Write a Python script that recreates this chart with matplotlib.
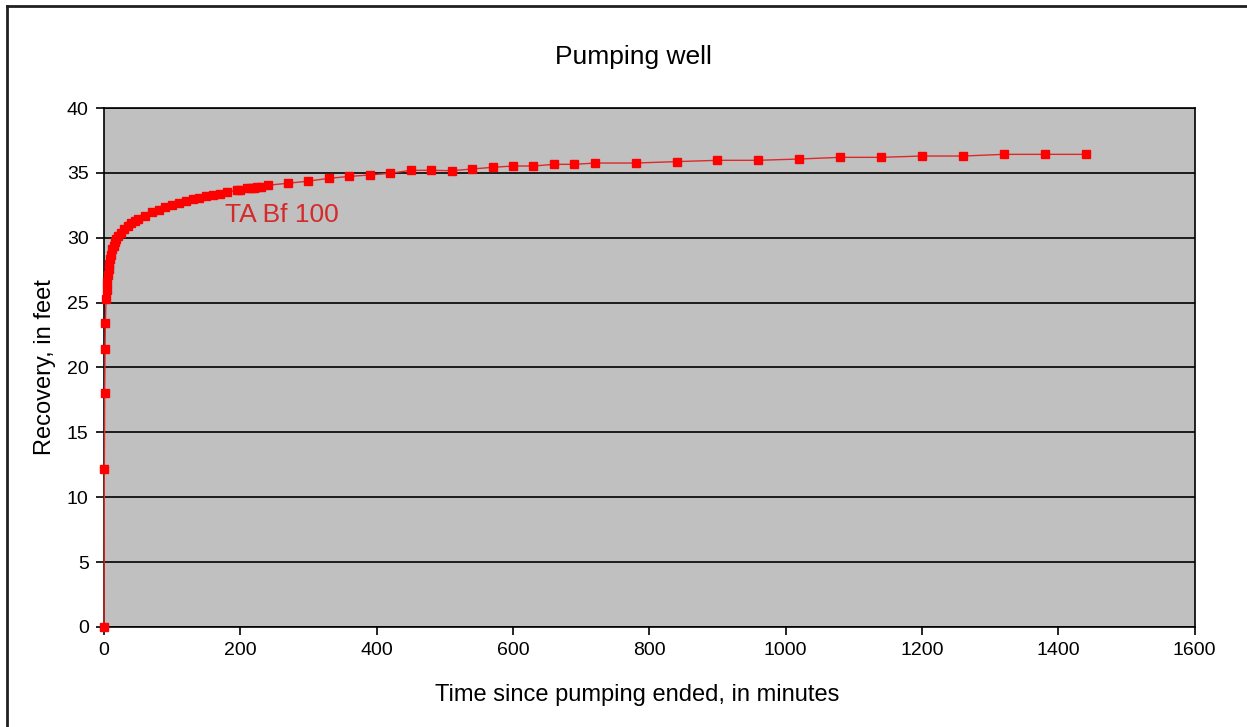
import numpy as np
import matplotlib
matplotlib.use("Agg")
import matplotlib.pyplot as plt
from matplotlib.lines import Line2D

plt.rcParams["font.family"] = ["Liberation Sans", "DejaVu Sans"]

# minutes since pumping ended / recovery (ft)
minutes = [0, 0.5, 1, 1.5, 2, 3, 4, 5, 6, 7, 8, 9, 10, 12, 14, 16, 18, 20,
           25, 30, 35, 40, 45, 50, 60, 70, 80, 90, 100, 110, 120, 130, 140,
           150, 160, 170, 180, 195, 200, 210, 215, 220, 225, 230, 240, 270,
           300, 330, 360, 390, 420, 450, 480, 510, 540, 570, 600, 630, 660,
           690, 720, 780, 840, 900, 960, 1020, 1080, 1140, 1200, 1260, 1320,
           1380, 1440]
recovery = [0.0, 12.2, 18.0, 21.4, 23.4, 25.3, 26.0, 26.6, 27.1, 27.6, 28.0,
            28.4, 28.7, 29.1, 29.4, 29.7, 29.9, 30.1, 30.4, 30.7, 30.9, 31.1,
            31.3, 31.45, 31.7, 31.95, 32.15, 32.35, 32.55, 32.7, 32.85, 32.95,
            33.05, 33.2, 33.3, 33.4, 33.5, 33.65, 33.7, 33.8, 33.8, 33.85,
            33.9, 33.95, 34.05, 34.2, 34.37, 34.58, 34.73, 34.84, 34.97, 35.2,
            35.2, 35.17, 35.3, 35.43, 35.53, 35.53, 35.66, 35.66, 35.76, 35.76,
            35.87, 35.97, 35.97, 36.07, 36.2, 36.2, 36.3, 36.3, 36.43, 36.43,
            36.43]
xticks = np.arange(0, 1601, 200)
yticks = np.arange(0, 41, 5)

fig = plt.figure(figsize=(12.47, 7.27), dpi=100)
ax = fig.add_axes([0.0834, 0.1376, 0.958 - 0.0834, 0.8514 - 0.1376])
ax.set_facecolor("#c0c0c0")

ax.plot(minutes, recovery, color="#e02828", lw=1.0, marker="s", ms=6,
        mfc="#ff0000", mec="#ff0000", zorder=3, clip_on=False)
ax.text(177, 31.75, "TA Bf 100", color="#d42a2a", fontsize=19, va="center")

ax.set_xlim(0, 1600); ax.set_ylim(0, 40)
ax.set_xticks(xticks); ax.set_yticks(yticks)
ax.yaxis.grid(True, color="black", lw=1.2)
ax.set_axisbelow(True)
for s in ax.spines.values():
    s.set_color("black"); s.set_linewidth(1.2)
ax.tick_params(direction="out", length=6, width=1.2, labelsize=14, pad=5)
fig.text(45 / 1247, 1 - 367 / 727, "Recovery, in feet", fontsize=17,
         rotation=90, ha="center", va="center")
fig.text(637 / 1247, 1 - 695 / 727, "Time since pumping ended, in minutes",
         fontsize=17, ha="center", va="center")
fig.text(633 / 1247, 1 - 57 / 727, "Pumping well", fontsize=19,
         ha="center", va="center")

# outer frame (top and left edges visible)
fig.add_artist(Line2D([7 / 1247, 7 / 1247], [0, 1 - 6 / 727], color="#231f20", lw=2))
fig.add_artist(Line2D([7 / 1247, 1], [1 - 6 / 727, 1 - 6 / 727], color="#231f20", lw=2))

fig.savefig("out.png", dpi=100)
